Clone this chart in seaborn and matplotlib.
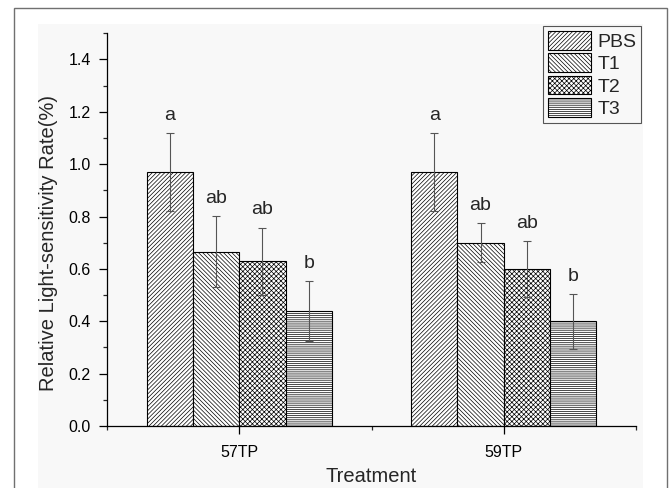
import pandas as pd
import matplotlib.pyplot as plt
import seaborn as sns
from matplotlib.patches import Rectangle

# values
groups = ["57TP", "59TP"]
treatments = ["PBS", "T1", "T2", "T3"]
means_57tp = [0.97, 0.665, 0.63, 0.44]
means_59tp = [0.97, 0.70, 0.60, 0.40]
err_57tp = [0.15, 0.136, 0.128, 0.115]
err_59tp = [0.15, 0.075, 0.107, 0.104]
letters_57tp = ["a", "ab", "ab", "b"]
letters_59tp = ["a", "ab", "ab", "b"]
hatches = ["////////", "\\" * 8, "xxxxxxx", "--------"]

rows = []
for g, m, e, l in [("57TP", means_57tp, err_57tp, letters_57tp),
                   ("59TP", means_59tp, err_59tp, letters_59tp)]:
    for t, mv, ev, lv in zip(treatments, m, e, l):
        rows.append({"group": g, "treatment": t, "value": mv, "err": ev, "letter": lv})
df = pd.DataFrame(rows)

sns.set_style("ticks")
plt.rcParams['font.family'] = ['Liberation Sans', 'DejaVu Sans']
plt.rcParams['hatch.linewidth'] = 0.5

fig = plt.figure(figsize=(6.7, 4.88), dpi=100)
fig.patch.set_facecolor("white")
# light panel and thin frame like the source image
fig.patches.append(Rectangle((0.0567, -0.05), 0.903, 1.0008, transform=fig.transFigure,
                             facecolor="#f8f8f8", edgecolor="none", zorder=-2))
fig.patches.append(Rectangle((0.0209, -0.05), 0.9746, 1.0336, transform=fig.transFigure,
                             facecolor="none", edgecolor="#707070", linewidth=1.0, zorder=-1))

ax = fig.add_axes([0.160, 0.127, 0.789, 0.805])
ax.set_facecolor("none")

sns.barplot(data=df, x="group", y="value", hue="treatment", order=groups,
            hue_order=treatments, palette=["white"] * 4, edgecolor="black",
            linewidth=0.8, errorbar=None, width=0.7, gap=0, legend=False, ax=ax)

bar_containers = list(ax.containers)
for i, cont in enumerate(bar_containers):
    sub = df[df["treatment"] == treatments[i]].set_index("group").loc[groups]
    for bar, (g, r) in zip(cont.patches, sub.iterrows()):
        bar.set_hatch(hatches[i])
        x = bar.get_x() + bar.get_width() / 2
        ax.errorbar(x, r["value"], yerr=r["err"], fmt="none", ecolor="#555555",
                    elinewidth=0.8, capsize=3, capthick=0.8, zorder=5)
        ax.text(x, r["value"] + r["err"] + 0.035, r["letter"], ha="center",
                va="bottom", fontsize=14)

ax.set_xlim(-0.5, 1.5)
ax.set_ylim(0, 1.5)
ax.set_yticks([0, 0.2, 0.4, 0.6, 0.8, 1.0, 1.2, 1.4])
ax.set_yticks([i / 10 for i in range(16)], minor=True)
ax.set_yticklabels(["0.0", "0.2", "0.4", "0.6", "0.8", "1.0", "1.2", "1.4"])
ax.set_xticks([-0.5, 0.5, 1.5], minor=True)
ax.tick_params(axis="both", which="major", direction="out", length=5.8, width=0.9,
               labelsize=11.5, colors="black")
ax.tick_params(axis="both", which="minor", direction="out", length=2.9, width=0.9)
ax.tick_params(axis="y", which="major", pad=6)
ax.tick_params(axis="x", which="major", pad=8)
for s in ["top", "right"]:
    ax.spines[s].set_visible(False)
for s in ["left", "bottom"]:
    ax.spines[s].set_linewidth(0.9)
    ax.spines[s].set_color("black")

ax.set_xlabel("Treatment", fontsize=14.5, labelpad=5)
ax.set_ylabel("Relative Light-sensitivity Rate(%)", fontsize=14.5)
ax.yaxis.set_label_coords(-0.093, 0.467)

handles = [cont.patches[0] for cont in bar_containers]
leg = ax.legend(handles, treatments, loc="upper right",
                bbox_to_anchor=(0.9567, 0.9467), bbox_transform=fig.transFigure,
                borderaxespad=0, fontsize=14, handlelength=2.25, handleheight=1.1,
                labelspacing=0.13, handletextpad=0.3, borderpad=0.25,
                fancybox=False, framealpha=1)
leg.get_frame().set_edgecolor("#555555")
leg.get_frame().set_facecolor("#f8f8f8")
leg.get_frame().set_linewidth(0.8)

fig.savefig("out.png", dpi=100)
